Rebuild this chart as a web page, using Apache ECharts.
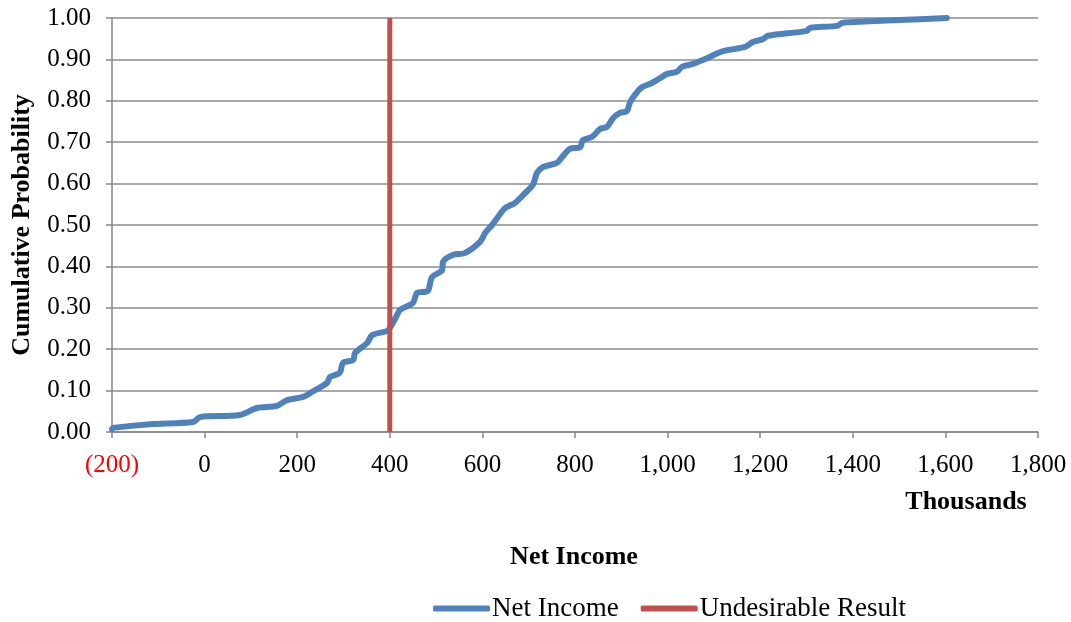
<!DOCTYPE html>
<html>
<head>
<meta charset="utf-8">
<script src="https://cdn.jsdelivr.net/npm/echarts@6/dist/echarts.min.js"></script>
<style>html,body{margin:0;padding:0;background:#fff}#c{width:1071px;height:622px}</style>
</head>
<body>
<div id="c"></div>
<script>
// Net Income (thousands) vs cumulative probability
const netIncomeX = [-200,-198,-118,-25,-10,76,113,156,178,213,232,264,271,292,299,321,325,351,362,394,400,416,422,450,459,482,491,513,515,537,562,595,606,621,632,649,670,692,709,718,731,761,772,789,811,817,837,854,869,882,897,912,919,934,945,966,984,999,1020,1031,1055,1070,1085,1120,1167,1184,1206,1217,1301,1307,1366,1377,1394,1500,1603];
const cumProb    = [0.007,0.010,0.019,0.024,0.036,0.041,0.058,0.063,0.077,0.085,0.097,0.118,0.133,0.143,0.167,0.174,0.191,0.215,0.234,0.244,0.251,0.283,0.295,0.312,0.336,0.341,0.374,0.391,0.411,0.428,0.432,0.459,0.481,0.500,0.517,0.541,0.553,0.577,0.597,0.626,0.640,0.650,0.664,0.684,0.688,0.705,0.713,0.732,0.737,0.758,0.771,0.775,0.797,0.821,0.833,0.843,0.855,0.865,0.870,0.882,0.889,0.896,0.903,0.920,0.930,0.942,0.949,0.957,0.969,0.976,0.981,0.988,0.990,0.995,1.000];
const undesirableX = [400, 400];
const undesirableY = [0, 1];
const xTicks = [-200,0,200,400,600,800,1000,1200,1400,1600,1800];
const yTicks = [0,0.1,0.2,0.3,0.4,0.5,0.6,0.7,0.8,0.9,1.0];

const font = 'Liberation Serif';
const chart = echarts.init(document.getElementById('c'));
const fmtX = v => {
  const s = Math.abs(v).toLocaleString('en-US');
  return v < 0 ? '{neg|(' + s + ')}' : s;
};
chart.setOption({
  animation: false,
  grid: {left: 112, right: 33, top: 18, bottom: 190, containLabel: false},
  xAxis: {
    type: 'value', min: -200, max: 1800, interval: 200,
    axisLine: {show: true, lineStyle: {color: '#868686', width: 1.5}},
    axisTick: {show: true, length: 6, lineStyle: {color: '#868686', width: 1.5}},
    splitLine: {show: false},
    axisLabel: {
      formatter: fmtX, margin: 21, color: '#000', fontFamily: font, fontSize: 25,
      rich: {neg: {color: '#ff0000', fontFamily: font, fontSize: 25}}
    }
  },
  yAxis: {
    type: 'value', min: 0, max: 1, interval: 0.1,
    axisLine: {show: true, onZero: false, lineStyle: {color: '#868686', width: 1.5}},
    axisTick: {show: true, length: 6, lineStyle: {color: '#868686', width: 1.5}},
    splitLine: {show: true, lineStyle: {color: '#8c8c8c', width: 1.5}},
    axisLabel: {formatter: v => v.toFixed(2), margin: 21, color: '#000', fontFamily: font, fontSize: 25}
  },
  legend: {
    top: 595, left: 433, padding: 0,
    icon: 'roundRect', itemWidth: 57, itemHeight: 6, itemGap: 22,
    textStyle: {fontFamily: font, fontSize: 27, color: '#000', padding: [0,0,0,-3]},
    data: ['Net Income', 'Undesirable Result']
  },
  graphic: [
    {type: 'text', x: 966, y: 502, style: {text: 'Thousands', font: 'bold 26px "Liberation Serif"', fill: '#000', align: 'center', verticalAlign: 'middle'}},
    {type: 'text', x: 574, y: 557, style: {text: 'Net Income', font: 'bold 26px "Liberation Serif"', fill: '#000', align: 'center', verticalAlign: 'middle'}},
    {type: 'text', x: 22, y: 225, rotation: Math.PI/2, style: {text: 'Cumulative Probability', font: 'bold 26px "Liberation Serif"', fill: '#000', align: 'center', verticalAlign: 'middle'}}
  ],
  series: [
    {
      name: 'Net Income', type: 'line', showSymbol: false, smooth: 0.3,
      lineStyle: {color: '#4F81BD', width: 6, cap: 'round'},
      itemStyle: {color: '#4F81BD'},
      data: netIncomeX.map((x, i) => [x, cumProb[i]]),
      z: 2
    },
    {
      name: 'Undesirable Result', type: 'line', showSymbol: false,
      lineStyle: {color: '#C0504D', width: 5},
      itemStyle: {color: '#C0504D'},
      data: undesirableX.map((x, i) => [x, undesirableY[i]]),
      z: 3
    }
  ]
});
</script>
</body>
</html>
